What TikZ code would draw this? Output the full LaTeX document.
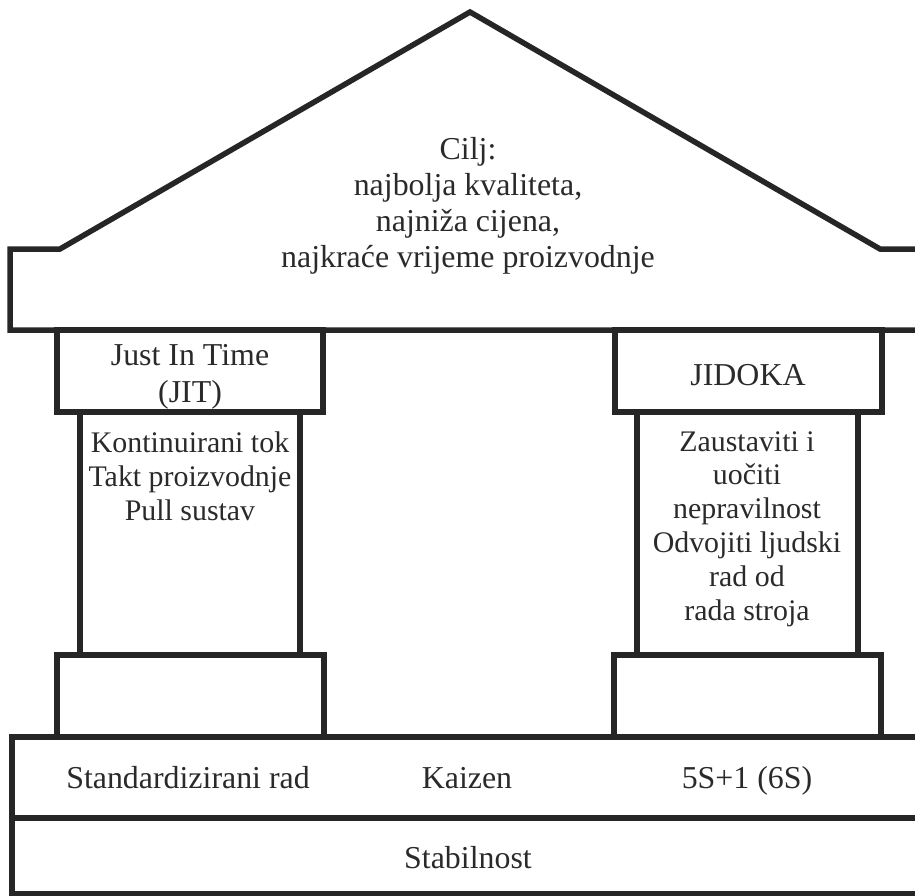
\documentclass[tikz,border=0pt]{standalone}
\usepackage{fontspec}
\setmainfont{Liberation Serif}
\usepackage{xcolor}
\usepackage{tikz}
\usetikzlibrary{
    positioning
}
\definecolor{linija}{HTML}{262626}
\definecolor{tekst}{HTML}{2a2a2a}
\tikzset{
    zid/.style={draw=linija, line width=5.5bp},
    natpis/.style={text=tekst, align=center, inner sep=0pt, font=\fontsize{32}{36}\selectfont},
    redak/.style={natpis, anchor=base},
    stupnatpis/.style={natpis, font=\fontsize{30}{34}\selectfont}
}

\begin{document}
\begin{tikzpicture}[x=1bp,y=-1bp]
            \useasboundingbox (0,0) rectangle (915,896);
            \clip (0,0) rectangle (915,896);
            % krov
            \coordinate (KL) at (10,330);
            \coordinate (KLg) at (10,249);
            \coordinate (SL) at (60,249);
            \coordinate (V) at (470,12);
            \coordinate (SD) at (880,249);
            \coordinate (KDg) at (930,249);
            \coordinate (KD) at (930,330);
            \draw[zid] (KD)--(KL)--(KLg)--(SL)--(V)--(SD)--(KDg);
            \node[natpis] (cilj) at (468,206) {Cilj:\\najbolja kvaliteta,\\najniža cijena,\\najkraće vrijeme proizvodnje};
            % lijevi stup
            \draw[zid] (57,330) rectangle (323,412);
            \draw[zid] (80,412) rectangle (300,655);
            \draw[zid] (57,655) rectangle (324,737);
            \node[redak] (jit) at (190,365) {Just In Time};
            \node[redak] (jitk) at (190,402) {(JIT)};
            \node[stupnatpis] (tok) at (190,476) {Kontinuirani tok\\Takt proizvodnje\\Pull sustav};
            % desni stup
            \draw[zid] (615,330) rectangle (882,412);
            \draw[zid] (637,412) rectangle (858,655);
            \draw[zid] (614,655) rectangle (881,737);
            \node[redak] (jidoka) at (748,385) {JIDOKA};
            \node[stupnatpis] (stroj) at (747,529) {Zaustaviti i\\uočiti\\nepravilnost\\Odvojiti ljudski\\rad od\\rada stroja};
            % temelj
            \draw[zid] (12,737) rectangle (930,818);
            \draw[zid] (12,818) rectangle (930,894);
            \node[redak] (rad) at (188,788) {Standardizirani rad};
            \node[redak] (kaizen) at (467,788) {Kaizen};
            \node[redak] (ses) at (747,788) {5S+1 (6S)};
            \node[redak] (stab) at (468,868) {Stabilnost};
        \end{tikzpicture}
\end{document}
